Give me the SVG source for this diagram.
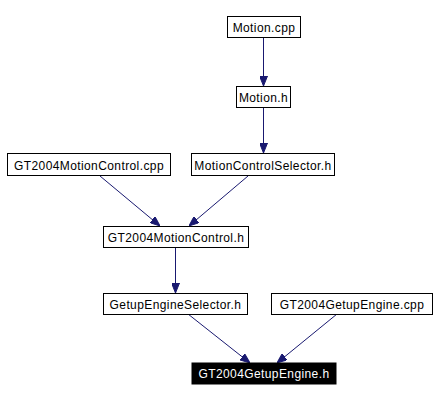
<svg xmlns="http://www.w3.org/2000/svg" width="436" height="401" viewBox="0 0 436 401">
<style>
.n rect{fill:#fff;stroke:#000;stroke-width:1}
.n text{font-family:"Liberation Sans",Arial,sans-serif;font-size:12px;letter-spacing:0.4px;text-anchor:middle;fill:#000}
#n9 rect{fill:#000}
#n9 text{fill:#fff}
.e{stroke:#191970;stroke-width:1;fill:none;marker-end:url(#a)}
</style>
<defs>
<marker id="a" viewBox="0 0 10 8" refX="10" refY="4" markerWidth="10" markerHeight="8" markerUnits="userSpaceOnUse" orient="auto">
<path d="M0,0 L10,4 L0,8 Z" fill="#191970" stroke="#191970"/>
</marker>
</defs>
<rect width="436" height="401" fill="#fff"/>
<g id="edges">
<path class="e" d="M263.5,37 L263.5,86"/>
<path class="e" d="M263.5,107 L263.5,153"/>
<path class="e" d="M100,176 L160,226"/>
<path class="e" d="M248,176 L189,226"/>
<path class="e" d="M175.5,247 L175.5,293"/>
<path class="e" d="M188,314 L250,363"/>
<path class="e" d="M337,314 L277,363"/>
</g>
<g id="n1" class="n"><rect x="227.5" y="16.5" width="73" height="21"/><text x="264" y="31.5">Motion.cpp</text></g>
<g id="n2" class="n"><rect x="236.5" y="86.5" width="54" height="21"/><text x="263.5" y="101.5">Motion.h</text></g>
<g id="n3" class="n"><rect x="7.5" y="153.5" width="163" height="22"/><text x="89" y="170">GT2004MotionControl.cpp</text></g>
<g id="n4" class="n"><rect x="191.5" y="153.5" width="143" height="22"/><text x="263" y="170">MotionControlSelector.h</text></g>
<g id="n5" class="n"><rect x="103.5" y="226.5" width="145" height="21"/><text x="176" y="241.5">GT2004MotionControl.h</text></g>
<g id="n6" class="n"><rect x="103.5" y="293.5" width="144" height="21"/><text x="175.5" y="308.5">GetupEngineSelector.h</text></g>
<g id="n7" class="n"><rect x="271.5" y="293.5" width="161" height="21"/><text x="352" y="308.5">GT2004GetupEngine.cpp</text></g>
<g id="n9" class="n"><rect x="192" y="363" width="144" height="21"/><text x="264" y="378">GT2004GetupEngine.h</text></g>
</svg>
